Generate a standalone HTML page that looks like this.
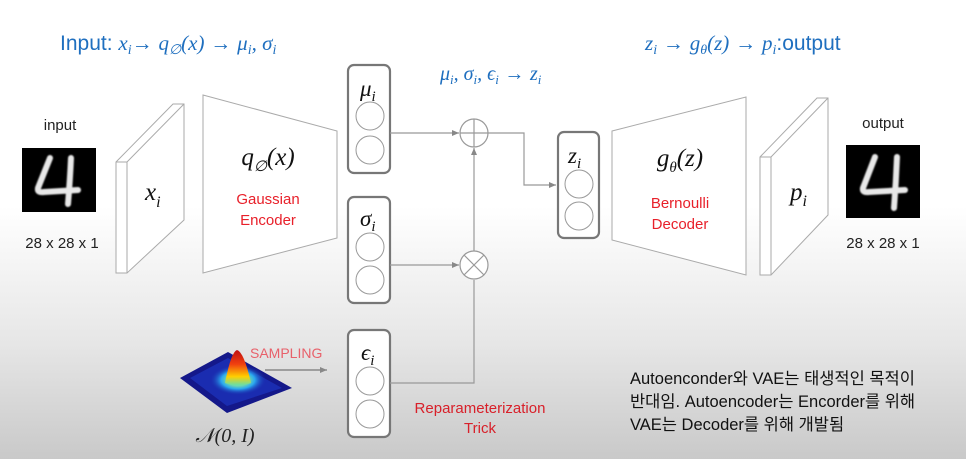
<!DOCTYPE html>
<html><head><meta charset="utf-8"><style>
html,body{margin:0;padding:0;}
body{width:966px;height:459px;overflow:hidden;background:linear-gradient(#ffffff 0%,#ffffff 45%,#e6e6e6 75%,#c9c9c9 100%);}
svg{display:block}
.m{font-family:"Liberation Serif",serif;font-style:italic;}
.s{font-family:"Liberation Sans",sans-serif;}
.k{font-family:"Liberation Sans","Noto Sans CJK KR",sans-serif;}
</style></head><body>
<svg width="966" height="459" viewBox="0 0 966 459" xmlns="http://www.w3.org/2000/svg">
<defs>
<marker id="a" markerWidth="8" markerHeight="8" refX="7" refY="4" orient="auto" markerUnits="userSpaceOnUse"><path d="M0,1 L7,4 L0,7z" fill="#888"/></marker>
<radialGradient id="g" cx="0.5" cy="0.5" r="0.5"><stop offset="0" stop-color="#ffe000"/><stop offset="0.35" stop-color="#7fe0a0"/><stop offset="0.6" stop-color="#2aa8f0"/><stop offset="1" stop-color="#1a30b0" stop-opacity="0"/></radialGradient>
<linearGradient id="c" x1="0" y1="0" x2="0" y2="1"><stop offset="0" stop-color="#c01010"/><stop offset="0.4" stop-color="#f04010"/><stop offset="0.75" stop-color="#ffd000"/><stop offset="1" stop-color="#60e0b0"/></linearGradient>
<filter id="b"><feGaussianBlur stdDeviation="0.8"/></filter>
</defs>
<text x="60" y="50" font-size="21" fill="#1f6fbf" class="s">Input: <tspan class="m">x<tspan font-size="14" dy="4">i</tspan></tspan><tspan dy="-4">→ </tspan><tspan class="m">q<tspan font-size="14" dy="4">∅</tspan><tspan dy="-4">(x)</tspan></tspan> → <tspan class="m">μ<tspan font-size="14" dy="4">i</tspan><tspan dy="-4">, σ</tspan><tspan font-size="14" dy="4">i</tspan></tspan></text>
<text x="645" y="50" font-size="21" fill="#1f6fbf" class="s"><tspan class="m">z<tspan font-size="14" dy="4">i</tspan></tspan><tspan dy="-4"> → </tspan><tspan class="m">g<tspan font-size="14" dy="4">θ</tspan><tspan dy="-4">(z)</tspan></tspan> → <tspan class="m">p<tspan font-size="14" dy="4">i</tspan></tspan><tspan dy="-4">:output</tspan></text>
<text x="440" y="80" font-size="20" fill="#1f6fbf" class="m">μ<tspan font-size="13" dy="4">i</tspan><tspan dy="-4">, σ</tspan><tspan font-size="13" dy="4">i</tspan><tspan dy="-4">, ϵ</tspan><tspan font-size="13" dy="4">i</tspan><tspan dy="-4" class="s" font-style="normal"> → </tspan><tspan>z</tspan><tspan font-size="13" dy="4">i</tspan></text>
<text x="60" y="130" font-size="15" text-anchor="middle" class="s" fill="#222">input</text>
<rect x="22" y="148" width="74" height="64" fill="#000"/>
<path d="M50,158 L38,188 Q37,193 44,192 L78,190 M71,158 Q70,180 68,204" fill="none" stroke="#e8e8e8" stroke-width="6" stroke-linecap="round" filter="url(#b)"/>
<text x="62" y="248" font-size="15" text-anchor="middle" class="s" fill="#222">28 x 28 x 1</text>
<polygon points="116,162 173,104 184,104 184,220 127,273 116,273" fill="#fff" stroke="#aaa"/>
<polyline points="116,162 127,162 184,104" fill="none" stroke="#aaa"/>
<line x1="127" y1="162" x2="127" y2="273" stroke="#aaa"/>
<text x="145" y="200" font-size="25" class="m" fill="#111">x<tspan font-size="16" dy="7">i</tspan></text>
<polygon points="203,95 337,131 337,238 203,273" fill="#fff" stroke="#aaa"/>
<text x="268" y="165" font-size="25" text-anchor="middle" class="m" fill="#111">q<tspan font-size="15" dy="6">∅</tspan><tspan dy="-6">(x)</tspan></text>
<text x="268" y="204" font-size="15" text-anchor="middle" class="s" fill="#e8202a">Gaussian</text>
<text x="268" y="225" font-size="15" text-anchor="middle" class="s" fill="#e8202a">Encoder</text>
<g fill="#fff" stroke="#777" stroke-width="2.2">
<rect x="348" y="65" width="42" height="108" rx="6"/>
<rect x="348" y="197" width="42" height="106" rx="6"/>
<rect x="348" y="330" width="42" height="107" rx="6"/>
<rect x="558" y="132" width="41" height="106" rx="6"/>
</g>
<g fill="#fff" stroke="#999" stroke-width="1">
<circle cx="370" cy="116" r="14"/><circle cx="370" cy="150" r="14"/>
<circle cx="370" cy="247" r="14"/><circle cx="370" cy="280" r="14"/>
<circle cx="370" cy="381" r="14"/><circle cx="370" cy="414" r="14"/>
<circle cx="579" cy="184" r="14"/><circle cx="579" cy="216" r="14"/>
</g>
<text x="360" y="96" font-size="23" class="m" fill="#111">μ<tspan font-size="15" dy="5">i</tspan></text>
<text x="360" y="226" font-size="23" class="m" fill="#111">σ<tspan font-size="15" dy="5">i</tspan></text>
<text x="361" y="360" font-size="23" class="m" fill="#111">ϵ<tspan font-size="15" dy="5">i</tspan></text>
<text x="568" y="163" font-size="23" class="m" fill="#111">z<tspan font-size="15" dy="5">i</tspan></text>
<g stroke="#999" stroke-width="1.2" fill="none">
<line x1="390" y1="133" x2="459" y2="133" marker-end="url(#a)"/>
<line x1="390" y1="265" x2="459" y2="265" marker-end="url(#a)"/>
<polyline points="390,383 474,383 474,280"/>
<line x1="474" y1="251" x2="474" y2="148" marker-end="url(#a)"/>
<polyline points="488,133 524,133 524,185 556,185" marker-end="url(#a)"/>
<circle cx="474" cy="133" r="14" fill="#fff"/>
<line x1="460" y1="133" x2="488" y2="133"/><line x1="474" y1="119" x2="474" y2="147"/>
<circle cx="474" cy="265" r="14" fill="#fff"/>
<line x1="464" y1="255" x2="484" y2="275"/><line x1="484" y1="255" x2="464" y2="275"/>
<line x1="265" y1="370" x2="327" y2="370" stroke="#777" marker-end="url(#a)"/>
</g>
<polygon points="612,131 746,97 746,275 612,240" fill="#fff" stroke="#aaa"/>
<text x="680" y="166" font-size="25" text-anchor="middle" class="m" fill="#111">g<tspan font-size="15" dy="6">θ</tspan><tspan dy="-6">(z)</tspan></text>
<text x="680" y="208" font-size="15" text-anchor="middle" class="s" fill="#e8202a">Bernoulli</text>
<text x="680" y="229" font-size="15" text-anchor="middle" class="s" fill="#e8202a">Decoder</text>
<polygon points="760,157 817,98 828,98 828,215 771,275 760,275" fill="#fff" stroke="#aaa"/>
<polyline points="760,157 771,157 828,98" fill="none" stroke="#aaa"/>
<line x1="771" y1="157" x2="771" y2="275" stroke="#aaa"/>
<text x="790" y="200" font-size="25" class="m" fill="#111">p<tspan font-size="16" dy="6">i</tspan></text>
<text x="883" y="128" font-size="15" text-anchor="middle" class="s" fill="#222">output</text>
<rect x="846" y="145" width="74" height="73" fill="#000"/>
<path d="M875,157 L863,188 Q862,193 869,192 L905,190 M897,157 Q896,182 894,208" fill="none" stroke="#e8e8e8" stroke-width="6" stroke-linecap="round" filter="url(#b)"/>
<text x="883" y="248" font-size="15" text-anchor="middle" class="s" fill="#222">28 x 28 x 1</text>
<polygon points="180,378 228,352 292,388 227,413" fill="#14188a"/>
<polygon points="190,378 228,358 282,388 227,406" fill="#1a2cb0"/>
<ellipse cx="238" cy="380" rx="28" ry="15" fill="url(#g)"/>
<path d="M225,383 Q231,352 237,350 Q244,352 251,383 Q238,388 225,383z" fill="url(#c)"/>
<text x="250" y="358" font-size="14" class="s" fill="#e8606a">SAMPLING</text>
<text x="225" y="442" font-size="20" text-anchor="middle" class="m" fill="#222">𝒩(0, I)</text>
<text x="480" y="413" font-size="15" text-anchor="middle" class="s" fill="#d8202a">Reparameterization</text>
<text x="480" y="433" font-size="15" text-anchor="middle" class="s" fill="#d8202a">Trick</text>
<g font-size="16.5" class="k" fill="#111">
<text x="630" y="384">Autoenconder와 VAE는 태생적인 목적이</text>
<text x="630" y="407">반대임. Autoencoder는 Encorder를 위해</text>
<text x="630" y="430">VAE는 Decoder를 위해 개발됨</text>
</g>
</svg>
</body></html>
